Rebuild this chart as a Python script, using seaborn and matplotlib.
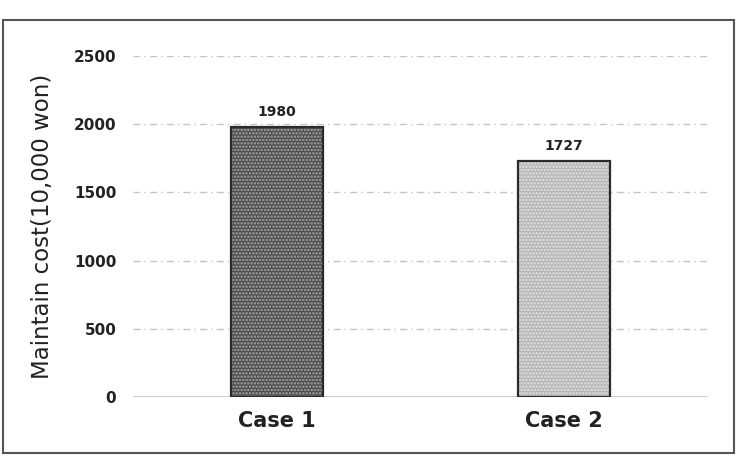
import matplotlib
matplotlib.use("Agg")
import matplotlib.pyplot as plt
from matplotlib.patches import Rectangle
import seaborn as sns

# data
cases = ["Case 1", "Case 2"]
costs = [1980, 1727]
y_ticks = [0, 500, 1000, 1500, 2000, 2500]

# bar looks: base colour + dot colour for the fine pattern
bar_faces = ["#4a4a4a", "#b4b4b4"]
dot_colors = ["#aaaaaa", "#e6e6e6"]

sns.set_theme(style="white")
plt.rcParams["font.family"] = ["DejaVu Sans"]
plt.rcParams["hatch.linewidth"] = 1.2

fig = plt.figure(figsize=(7.37, 4.55), dpi=100)
ax = fig.add_axes([0.1805, 0.1275, 0.78, 0.7495])

sns.barplot(x=cases, y=costs, hue=cases, palette=bar_faces, width=0.32,
            legend=False, ax=ax, saturation=1)

for i, cont in enumerate(ax.containers):
    for p in cont:
        p.set_hatch(".....")
        p.set_edgecolor(dot_colors[i])
        p.set_linewidth(0)
        ax.add_patch(Rectangle(p.get_xy(), p.get_width(), p.get_height(),
                               fill=False, edgecolor="#2b2b2b", linewidth=1.6, zorder=3))
    ax.bar_label(cont, fmt="%d", padding=6, fontsize=10, fontweight="bold", color="#222222")

ax.set_ylim(0, 2500)
ax.set_xlim(-0.5, 1.5)
ax.set_yticks(y_ticks)
ax.set_yticklabels([str(t) for t in y_ticks], fontsize=11, fontweight="bold", color="#222222")
ax.tick_params(axis="y", length=0, pad=12)
ax.tick_params(axis="x", length=0, pad=10, labelsize=15, labelcolor="#222222")
for lab in ax.get_xticklabels():
    lab.set_fontweight("bold")

for t in y_ticks[1:]:
    ax.axhline(t, color="#c4c4c4", linestyle=(0, (5, 3, 1, 3)), linewidth=1, zorder=0)
ax.axhline(0, color="#d0d0d0", linewidth=2.2, zorder=1)

for s in ax.spines.values():
    s.set_visible(False)

ax.set_xlabel("")
ax.set_ylabel("Maintain cost(10,000 won)", fontsize=16.5, color="#222222", labelpad=14)

# outer frame of the picture
fig.add_artist(Rectangle((3 / 737, 2 / 455), 731 / 737, 433 / 455, transform=fig.transFigure,
                         fill=False, edgecolor="#555555", linewidth=1.5))

fig.savefig("out.png", dpi=100)
